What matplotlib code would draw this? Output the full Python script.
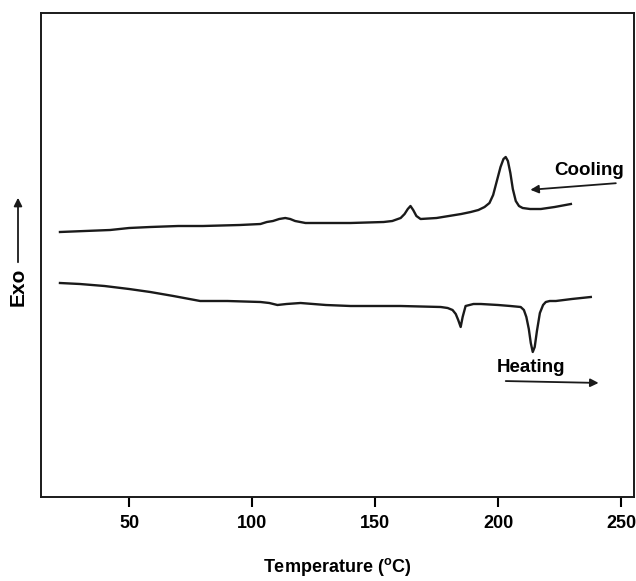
import numpy as np
import matplotlib.pyplot as plt
from matplotlib.patches import FancyArrowPatch

plt.rcParams['font.family'] = ['Liberation Sans', 'DejaVu Sans']
plt.rcParams['font.weight'] = 'bold'

# DSC traces (temperature in C, signal in arbitrary units)
cool_T = [21.9, 32.0, 42.3, 50.0, 58.6, 70.0, 80.0, 95.0, 103.4, 106.0, 108.5,
          111.0, 113.5, 115.5, 117.5, 121.7, 130.0, 140.0, 153.5, 157.0,
          160.4, 162.0, 163.3, 164.4, 165.5, 166.8, 168.5, 175.0, 180.0, 185.0,
          188.9, 192.0, 194.5, 196.5, 198.0, 199.5, 201.0, 202.2, 203.1, 204.0,
          205.0, 206.0, 207.2, 208.5, 210.0, 213.0, 217.4, 223.0, 229.6]
cool_y = [265, 266, 267, 269, 270, 271, 271, 272, 273, 275, 276,
          278, 279, 278, 276, 274, 274, 274, 275, 276,
          279, 283, 288, 291, 287, 281, 278, 279, 281, 283,
          285, 287, 290, 294, 302, 316, 330, 338, 340, 336,
          324, 308, 296, 291, 289, 288, 288, 290, 293]

heat_T = [21.9, 30.0, 40.0, 50.0, 58.6, 68.0, 78.9, 90.0, 103.4, 107.0, 110.3,
          114.0, 119.7, 130.0, 140.0, 160.4, 176.7, 179.5, 181.5, 182.8, 183.8,
          184.8, 185.6, 186.8, 190.0, 193.0, 200.0, 205.0, 209.2, 210.5, 211.5,
          212.5, 213.3, 214.1, 214.9, 215.8, 217.0, 218.3, 219.4, 221.0, 223.5,
          230.0, 237.7]
heat_y = [214, 213, 211, 208, 205, 201, 196, 196, 195, 194, 192,
          193, 194, 192, 191, 191, 190, 189, 187, 183, 177,
          170, 180, 191, 193, 193, 192, 191, 190, 187, 180,
          168, 154, 145, 150, 166, 184, 192, 195, 196, 196,
          198, 200]

xticks = [50, 100, 150, 200, 250]

fig = plt.figure(figsize=(6.36, 5.81), dpi=100)
ax = fig.add_axes([0.0645, 0.1446, 0.9325, 0.833])

ax.plot(cool_T, cool_y, color='#1a1a1a', lw=1.7, solid_joinstyle='round')
ax.plot(heat_T, heat_y, color='#1a1a1a', lw=1.7, solid_joinstyle='round')

ax.set_xlim(14.2, 255.3)
ax.set_ylim(0, 484)
ax.set_xticks(xticks)
ax.set_xticklabels([str(t) for t in xticks], fontsize=13, fontweight='bold')
ax.set_yticks([])
ax.tick_params(axis='x', direction='out', length=7, width=1.5, pad=6)
for s in ax.spines.values():
    s.set_linewidth(1.4)
    s.set_color('#1a1a1a')

ax.set_xlabel('Temperature ($\\mathregular{^oC}$)', fontsize=13, fontweight='bold', labelpad=17)

# Exo label with upward arrow
fig.text(18 / 636, 1 - 287 / 581, 'Exo', rotation=90, fontsize=15, fontweight='bold',
         ha='center', va='center')
fig.add_artist(FancyArrowPatch(
    (18 / 636, 1 - 265 / 581), (18 / 636, 1 - 195 / 581),
    transform=fig.transFigure, arrowstyle='-|>', mutation_scale=12, lw=1.3, color='#1a1a1a'))

# Cooling / Heating annotations
ax.text(237, 327, 'Cooling', fontsize=13.5, fontweight='bold', ha='center', va='center')
ax.annotate('', xy=(212, 307), xytext=(249, 314),
            arrowprops=dict(arrowstyle='-|>', lw=1.3, color='#1a1a1a', mutation_scale=12))
ax.text(199.5, 129, 'Heating', fontsize=13.5, fontweight='bold', ha='left', va='center')
ax.annotate('', xy=(242, 114), xytext=(202, 116),
            arrowprops=dict(arrowstyle='-|>', lw=1.3, color='#1a1a1a', mutation_scale=12))

fig.savefig('out.png', dpi=100)
